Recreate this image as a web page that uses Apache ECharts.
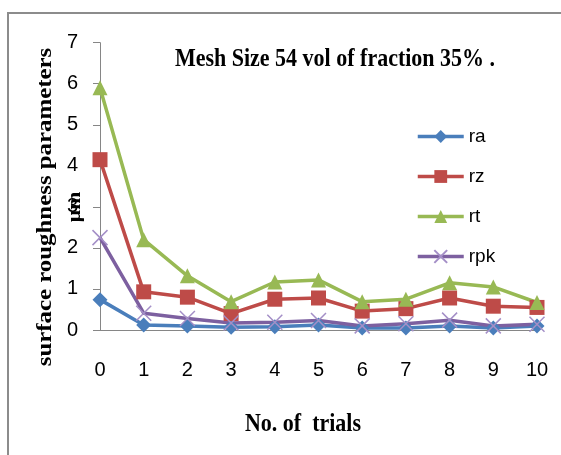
<!DOCTYPE html>
<html>
<head>
<meta charset="utf-8">
<script src="https://cdn.jsdelivr.net/npm/echarts@6/dist/echarts.min.js"></script>
<style>html,body{margin:0;padding:0;background:#fff}#c{width:561px;height:455px}</style>
</head>
<body>
<div id="c"></div>
<script>
const trials = ['0','1','2','3','4','5','6','7','8','9','10'];
const yTicks = [0,1,2,3,4,5,6,7];
const ra  = [0.74,0.12,0.10,0.07,0.08,0.12,0.05,0.05,0.10,0.05,0.10];
const rz  = [4.15,0.93,0.80,0.40,0.75,0.78,0.46,0.52,0.78,0.58,0.55];
const rt  = [5.90,2.20,1.32,0.69,1.17,1.22,0.69,0.75,1.15,1.05,0.67];
const rpk = [2.25,0.41,0.28,0.17,0.19,0.23,0.10,0.15,0.24,0.10,0.14];
const names = ['ra','rz','rt','rpk'];

const chart = echarts.init(document.getElementById('c'), null, {renderer:'canvas'});
const sans = 'Liberation Sans';
const serif = 'Liberation Serif';
function line(name, data, color, symbol, size, extra) {
  return Object.assign({
    name, type:'line', data, color, symbol, symbolSize:size,
    lineStyle:{width:3.5,color}, itemStyle:{color}, showSymbol:true,
    emphasis:{disabled:true}, animation:false
  }, extra || {});
}
chart.setOption({
  animation:false,
  backgroundColor:'#fff',
  grid:{left:100,right:24,top:42.7,bottom:125,containLabel:false},
  legend:{
    orient:'vertical', left:411, top:122, itemWidth:46, itemHeight:16, itemGap:21,
    lineStyle:{width:3.5},
    textStyle:{fontFamily:sans,fontSize:19,color:'#000'},
    data:names.map(n=>({name:n,lineStyle:{width:3.5}}))
  },
  xAxis:{
    type:'category', data:trials, boundaryGap:false,
    axisLine:{lineStyle:{color:'#868686',width:1}},
    axisTick:{show:false},
    axisLabel:{margin:30,fontFamily:sans,fontSize:20,color:'#000'}
  },
  yAxis:{
    type:'value', min:0, max:7, interval:1,
    axisLine:{show:true,lineStyle:{color:'#868686',width:1}},
    axisTick:{show:true,length:7,lineStyle:{color:'#868686'}},
    splitLine:{show:false},
    axisLabel:{margin:22,fontFamily:sans,fontSize:20,color:'#000',
      formatter:v=>yTicks.includes(v)?String(v):''}
  },
  graphic:[
    {type:'polyline',shape:{points:[[8,455],[8,13],[561,13]]},style:{stroke:'#8c8c8c',lineWidth:2,fill:null},silent:true},
    {type:'text',x:335,y:60,scaleY:1.12,style:{text:'Mesh Size 54 vol of fraction 35% .',fontFamily:serif,fontWeight:'bold',fontSize:22,fill:'#000',textAlign:'center',textVerticalAlign:'middle'}},
    {type:'text',x:45,y:207,rotation:Math.PI/2,scaleX:1.13,style:{text:'surface roughness parameters',fontFamily:serif,fontWeight:'bold',fontSize:22,fill:'#000',textAlign:'center',textVerticalAlign:'middle'}},
    {type:'text',x:75,y:207,rotation:Math.PI/2,scaleX:1.2,style:{text:'µm',fontFamily:serif,fontWeight:'bold',fontSize:18,fill:'#000',textAlign:'center',textVerticalAlign:'middle'}},
    {type:'text',x:303,y:424,scaleY:1.15,style:{text:'No. of  trials',fontFamily:serif,fontWeight:'bold',fontSize:22,fill:'#000',textAlign:'center',textVerticalAlign:'middle'}}
  ],
  series:[
    line('ra', ra, '#4A7EBB', 'diamond', 15),
    line('rz', rz, '#BE4B48', 'rect', 15),
    line('rt', rt, '#98B954', 'triangle', 15),
    line('rpk', rpk, '#7D60A0', 'path://M0,0L10,10M10,0L0,10', 15,
      {itemStyle:{color:'#7D60A0',borderColor:'#A48FC7',borderWidth:1.5}})
  ]
});
</script>
</body>
</html>
